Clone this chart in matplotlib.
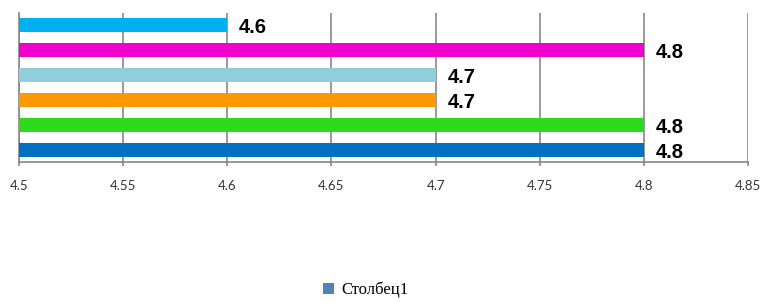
import matplotlib
matplotlib.use("Agg")
from matplotlib import pyplot as plt
from matplotlib.patches import Patch

# bars from bottom to top
values = [4.8, 4.8, 4.7, 4.7, 4.8, 4.6]
colors = ['#0070c0', '#2edb1a', '#ff9900', '#92cddc', '#f000cc', '#00b0f0']
x_ticks = [4.5, 4.55, 4.6, 4.65, 4.7, 4.75, 4.8, 4.85]
x_tick_labels = ['4.5', '4.55', '4.6', '4.65', '4.7', '4.75', '4.8', '4.85']
series_name = 'Столбец1'

fig = plt.figure(figsize=(7.61, 3.02), dpi=100)
ax = fig.add_axes([0.025, 0.4636, 0.958, 0.4934])

pos = list(range(len(values)))
base = 4.5
ax.barh(pos, [v - base for v in values], left=base, height=0.56, color=colors, zorder=3)

for p, v in zip(pos, values):
    ax.annotate('%.1f' % v, (v, p), xytext=(8.5, -1.5), textcoords='offset points',
                ha='left', va='center', fontsize=14.5, fontweight='bold',
                family='Liberation Sans', color='black')

ax.set_xlim(4.5, 4.85)
ax.set_ylim(-0.48, 5.48)
ax.set_xticks(x_ticks)
ax.set_xticklabels(x_tick_labels, family='Lato', fontsize=9.5, color='#333333')
ax.set_yticks([])
ax.tick_params(axis='x', length=3, color='#888888', width=1.2, pad=10)
ax.grid(axis='x', color='#888888', linewidth=1.2, zorder=0)

for s in ['top', 'right']:
    ax.spines[s].set_visible(False)
for s in ['left', 'bottom']:
    ax.spines[s].set_color('#888888')
    ax.spines[s].set_linewidth(1.2)

handle = Patch(facecolor='#4f81bd', edgecolor='none')
fig.legend([handle], [series_name], loc='center', bbox_to_anchor=(0.48, 0.04),
           frameon=False, prop={'family': 'Liberation Serif', 'size': 12},
           handlelength=0.7, handleheight=0.7, handletextpad=0.4)

fig.savefig('out.png', dpi=100)
